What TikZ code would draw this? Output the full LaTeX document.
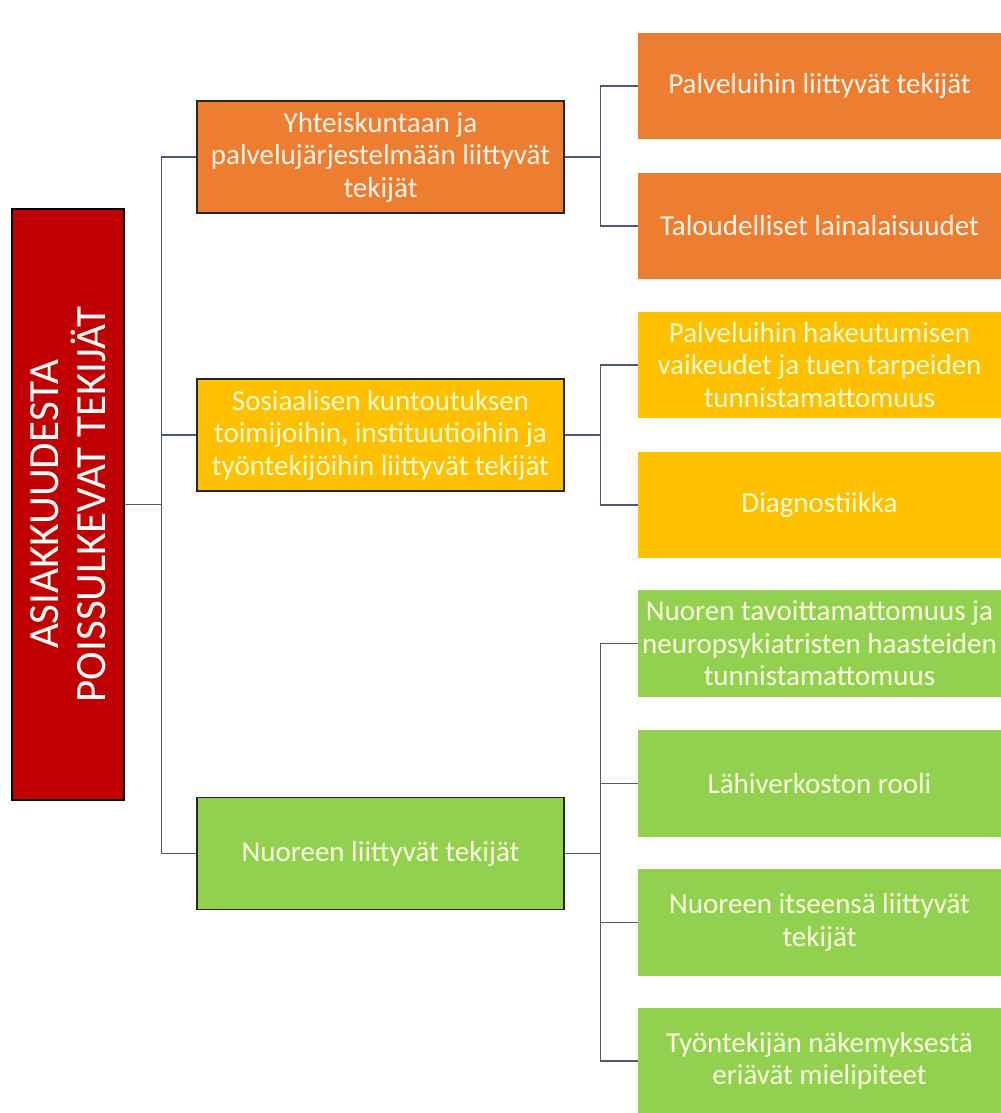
\documentclass[tikz,border=0pt]{standalone}
\usepackage{fontspec}
\setmainfont{Carlito}
\usetikzlibrary{calc,positioning}

\definecolor{rootred}{HTML}{C00000}
\definecolor{boxorange}{HTML}{ED7D31}
\definecolor{boxyellow}{HTML}{FFC000}
\definecolor{boxgreen}{HTML}{92D050}
\definecolor{linkgrey}{HTML}{4A5A78}

\begin{document}
\begin{tikzpicture}[
    x=0.02cm, y=-0.02cm,
    rootbox/.style={draw=black,line width=1.3pt,fill=rootred,text=white,rotate=90,
      minimum width=11.82cm,minimum height=2.24cm,align=center,
      font=\fontsize{24.5}{27}\selectfont},
    midbox/.style={draw=black!85,line width=0.9pt,minimum width=7.34cm,minimum height=2.24cm,
      align=center,inner sep=0pt,font=\fontsize{16.5}{18.5}\selectfont},
    leafbox/.style={minimum width=7.26cm,minimum height=2.14cm,
      align=center,inner sep=0pt,font=\fontsize{16.5}{18.5}\selectfont},
    link/.style={draw=linkgrey,line width=0.6pt}
    ]

    \useasboundingbox (0,0) rectangle (1001,1113);

    % root
    \node (root) [rootbox] at (68,504.5) {ASIAKKUUDESTA\\POISSULKEVAT TEKIJÄT};

    % middle level
    \node (m0) [midbox,fill=boxorange,text=orange!8] at (380.5,157)
      {Yhteiskuntaan ja\\palvelujärjestelmään liittyvät\\tekijät};
    \node (m1) [midbox,fill=boxyellow,text=yellow!20] at (380.5,435)
      {Sosiaalisen kuntoutuksen\\toimijoihin, instituutioihin ja\\työntekijöihin liittyvät tekijät};
    \node (m2) [midbox,fill=boxgreen,text=green!5!yellow!12] at (380.5,853.5)
      {Nuoreen liittyvät tekijät};

    % leaves
    \node (r0) [leafbox,fill=boxorange,text=orange!8] at (819.5,86) {Palveluihin liittyvät tekijät};
    \node (r1) [leafbox,fill=boxorange,text=orange!8] at (819.5,226) {Taloudelliset lainalaisuudet};
    \node (r2) [leafbox,fill=boxyellow,text=yellow!20] at (819.5,365)
      {Palveluihin hakeutumisen\\vaikeudet ja tuen tarpeiden\\tunnistamattomuus};
    \node (r3) [leafbox,fill=boxyellow,text=yellow!20] at (819.5,505) {Diagnostiikka};
    \node (r4) [leafbox,fill=boxgreen,text=green!5!yellow!12] at (819.5,643.5)
      {Nuoren tavoittamattomuus ja\\neuropsykiatristen haasteiden\\tunnistamattomuus};
    \node (r5) [leafbox,fill=boxgreen,text=green!5!yellow!12] at (819.5,783.5) {Lähiverkoston rooli};
    \node (r6) [leafbox,fill=boxgreen,text=green!5!yellow!12] at (819.5,922.5)
      {Nuoreen itseensä liittyvät\\tekijät};
    \node (r7) [leafbox,fill=boxgreen,text=green!5!yellow!12] at (819.5,1061)
      {Työntekijän näkemyksestä\\eriävät mielipiteet};

    % connectors
    \foreach \m in {0,1,2}
      \draw[link] (root.south) -- ++(36,0) |- (m\m.west);

    \foreach \r in {0,1}
      \draw[link] (m0.east) -- ++(36,0) |- (r\r.west);
    \foreach \r in {2,3}
      \draw[link] (m1.east) -- ++(36,0) |- (r\r.west);
    \foreach \r in {4,...,7}
      \draw[link] (m2.east) -- ++(36,0) |- (r\r.west);

  \end{tikzpicture}
\end{document}
